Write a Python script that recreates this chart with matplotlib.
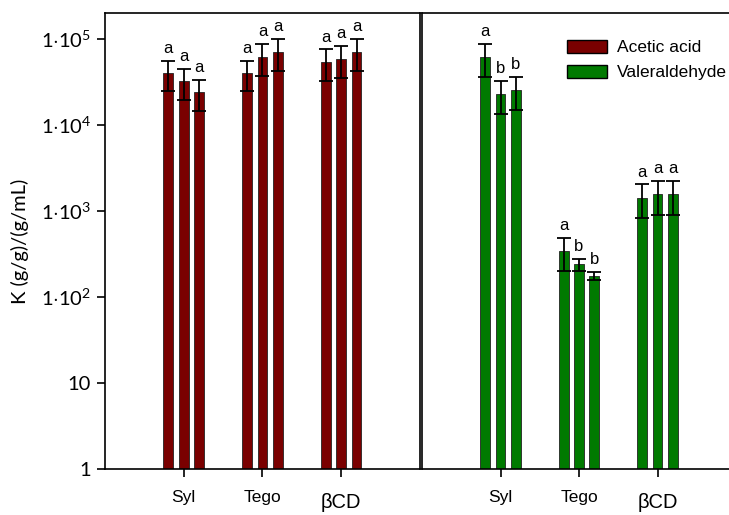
import numpy as np
import matplotlib
matplotlib.use("Agg")
import matplotlib.pyplot as plt
from matplotlib.patches import Patch

plt.rcParams["font.family"] = ["Liberation Sans", "DejaVu Sans"]
plt.rcParams["mathtext.fontset"] = "custom"
plt.rcParams["mathtext.rm"] = "Lato"
plt.rcParams["mathtext.it"] = "Lato:italic"

# -*- data
groups = ["Syl", "Tego", "\u03b2CD"]

acetic_mean = [[4.0e4, 3.2e4, 2.4e4],
               [4.0e4, 6.2e4, 7.1e4],
               [5.4e4, 5.9e4, 7.1e4]]
acetic_sd = [[1.55e4, 1.25e4, 0.95e4],
             [1.55e4, 2.5e4, 2.9e4],
             [2.15e4, 2.4e4, 2.9e4]]
acetic_let = [["a", "a", "a"], ["a", "a", "a"], ["a", "a", "a"]]

valer_mean = [[6.2e4, 2.3e4, 2.55e4],
              [343, 240, 177],
              [1430, 1560, 1560]]
valer_sd = [[2.6e4, 0.95e4, 1.05e4],
            [144, 39, 18],
            [600, 660, 660]]
valer_let = [["a", "b", "b"], ["a", "b", "b"], ["a", "a", "a"]]

yticks = [1, 10, 100, 1e3, 1e4, 1e5]
ytlabels = ["1", "10", "1$\\cdot$10$^2$", "1$\\cdot$10$^3$", "1$\\cdot$10$^4$", "1$\\cdot$10$^5$"]

c_acetic = "#7a0000"
c_valer = "#007a00"

fig = plt.figure(figsize=(7.29, 5.15), dpi=100)
ax1 = fig.add_axes([0.144, 0.0893, 0.432, 0.8855])
ax2 = fig.add_axes([0.5789, 0.0893, 0.4211, 0.8855])

bw = 0.125
off = 0.195


def draw_panel(ax, means, sds, lets, color, xmax):
    x0 = np.arange(1, len(groups) + 1)
    for i, xc in enumerate(x0):
        xs = xc + off * np.array([-1, 0, 1])
        ax.bar(xs, means[i], width=bw, color=color, edgecolor="#222222",
               linewidth=0.6, zorder=2)
        ax.errorbar(xs, means[i], yerr=sds[i], fmt="none", ecolor="black",
                    elinewidth=1.3, capsize=5, capthick=1.3, zorder=3)
        for x, m, s, l in zip(xs, means[i], sds[i], lets[i]):
            ax.annotate(l, (x, m + s), xytext=(0, 3.5), textcoords="offset points",
                        ha="center", va="bottom", fontsize=12)
    ax.set_yscale("log")
    ax.set_ylim(1, 2e5)
    ax.set_xlim(0, xmax)
    ax.set_xticks(x0)
    ax.set_xticklabels(groups)
    ax.tick_params(axis="x", length=6, width=1.2, labelsize=12.5, pad=9)
    for lab in ax.get_xticklabels():
        if lab.get_text().startswith("\u03b2"):
            lab.set_fontsize(14.5)
            lab.set_y(-0.008)
    ax.minorticks_off()
    for sp in ax.spines.values():
        sp.set_linewidth(1.2)


draw_panel(ax1, acetic_mean, acetic_sd, acetic_let, c_acetic, 4.0)
draw_panel(ax2, valer_mean, valer_sd, valer_let, c_valer, 3.91)

ax1.set_yticks(yticks)
ax1.set_yticklabels(ytlabels, fontfamily="Lato", fontsize=14.5)
ax1.tick_params(axis="y", length=6, width=1.2, pad=4)
ax1.set_ylabel("K (g/g)/(g/mL)", fontfamily="Lato", fontsize=14.5, labelpad=8)

ax2.set_yticks([])
ax2.spines["right"].set_visible(False)

handles = [Patch(facecolor=c_acetic, edgecolor="black", linewidth=1.0),
           Patch(facecolor=c_valer, edgecolor="black", linewidth=1.0)]
ax2.legend(handles, ["Acetic acid", "Valeraldehyde"], loc="upper right",
           bbox_to_anchor=(1.045, 0.975), frameon=False, fontsize=12.5,
           handlelength=2.3, handleheight=0.75, handletextpad=0.6,
           labelspacing=0.55)

fig.savefig("out.png", dpi=100)
